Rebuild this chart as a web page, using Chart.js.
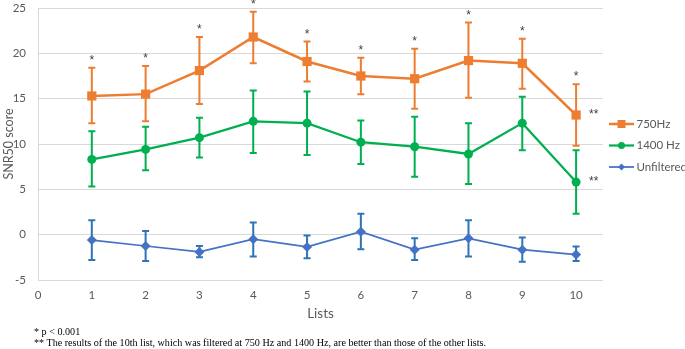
<!DOCTYPE html>
<html>
<head>
<meta charset="utf-8">
<script src="https://cdn.jsdelivr.net/npm/chart.js@4.4.0/dist/chart.umd.min.js"></script>
<style>
  body { margin: 0; background: #fff; }
  #wrap { position: relative; width: 685px; height: 349px; }
  .note {
    position: absolute;
    left: 34px;
    font-family: "Liberation Serif", "Times New Roman", serif;
    font-size: 10.15px;
    color: #000;
    white-space: nowrap;
  }
</style>
</head>
<body>
<div id="wrap">
  <canvas id="snr-chart" width="685" height="349"></canvas>
  <div class="note" style="top:326px">* p &lt; 0.001</div>
  <div class="note" style="top:337px">** The results of the 10th list, which was filtered at 750 Hz and 1400 Hz, are better than those of the other lists.</div>
</div>
<script>
const lists = [1, 2, 3, 4, 5, 6, 7, 8, 9, 10];

const hz750 = [15.3, 15.5, 18.1, 21.8, 19.1, 17.5, 17.2, 19.2, 18.9, 13.2];
const hz750Low = [12.3, 12.5, 14.4, 18.9, 16.9, 15.5, 13.9, 15.1, 16.1, 9.8];
const hz750High = [18.4, 18.6, 21.8, 24.6, 21.3, 19.5, 20.5, 23.4, 21.6, 16.6];

const hz1400 = [8.3, 9.4, 10.7, 12.5, 12.3, 10.2, 9.7, 8.9, 12.3, 5.8];
const hz1400Low = [5.3, 7.1, 8.5, 9.0, 8.8, 7.8, 6.4, 5.6, 9.3, 2.3];
const hz1400High = [11.4, 11.9, 12.9, 15.9, 15.8, 12.6, 13.0, 12.3, 15.2, 9.3];

const unfiltered = [-0.6, -1.25, -1.9, -0.5, -1.35, 0.33, -1.65, -0.4, -1.65, -2.2];
const unfLow = [-2.8, -2.9, -2.5, -2.4, -2.6, -1.6, -2.8, -2.4, -3.0, -2.9];
const unfHigh = [1.6, 0.4, -1.25, 1.35, -0.1, 2.3, -0.4, 1.6, -0.3, -1.3];

// significance marks above the 750Hz bars, and the "**" next to list 10
const stars750 = ["*", "*", "*", "*", "*", "*", "*", "*", "*", "*"];
const doubleStarList = 10;

const toPoints = (ys) => lists.map((x, i) => ({ x: x, y: ys[i] }));

const sans = "Lato, 'Noto Sans', sans-serif";

const series = [
  { label: "750Hz", values: hz750, low: hz750Low, high: hz750High, color: "#ED7D31", bar: "#ED7D31", style: "rect", radius: 6.5, width: 2.5 },
  { label: "1400 Hz", values: hz1400, low: hz1400Low, high: hz1400High, color: "#00B050", bar: "#00B050", style: "circle", radius: 4.5, width: 2.25 },
  { label: "Unfiltered", values: unfiltered, low: unfLow, high: unfHigh, color: "#4472C4", bar: "#2E75B6", style: "rectRot", radius: 5, width: 1.75 },
];

const errorBars = {
  id: "errorBars",
  beforeDatasetsDraw(chart) {
    const { ctx, scales: { x, y } } = chart;
    ctx.save();
    series.forEach((s) => {
      ctx.strokeStyle = s.bar;
      ctx.lineWidth = 2;
      lists.forEach((l, i) => {
        const px = x.getPixelForValue(l);
        const top = y.getPixelForValue(s.high[i]);
        const bot = y.getPixelForValue(s.low[i]);
        ctx.beginPath();
        ctx.moveTo(px, top);
        ctx.lineTo(px, bot);
        ctx.moveTo(px - 3.5, top);
        ctx.lineTo(px + 3.5, top);
        ctx.moveTo(px - 3.5, bot);
        ctx.lineTo(px + 3.5, bot);
        ctx.stroke();
      });
    });
    ctx.restore();
  },
  afterDraw(chart) {
    const { ctx, scales: { x, y } } = chart;
    ctx.save();
    ctx.fillStyle = "#404040";
    ctx.font = "12px 'Liberation Sans', sans-serif";
    ctx.textAlign = "center";
    ctx.textBaseline = "middle";
    lists.forEach((l, i) => {
      ctx.fillText(stars750[i], x.getPixelForValue(l), y.getPixelForValue(hz750High[i]) - 7);
    });
    const i10 = lists.indexOf(doubleStarList);
    ctx.textAlign = "left";
    [hz750, hz1400].forEach((vals) => {
      ctx.fillText("**", x.getPixelForValue(doubleStarList) + 13, y.getPixelForValue(vals[i10]));
    });

    // legend
    ctx.font = "11.5px " + sans;
    series.forEach((s, k) => {
      const ly = 124 + k * 21.5;
      ctx.strokeStyle = s.color;
      ctx.lineWidth = s.width;
      ctx.beginPath();
      ctx.moveTo(609, ly);
      ctx.lineTo(634, ly);
      ctx.stroke();
      ctx.fillStyle = s.color;
      ctx.beginPath();
      if (s.style === "rect") {
        ctx.rect(617.5, ly - 4, 8, 8);
      } else if (s.style === "circle") {
        ctx.arc(621.5, ly, 3.5, 0, Math.PI * 2);
      } else {
        ctx.moveTo(621.5, ly - 3.5);
        ctx.lineTo(625, ly);
        ctx.lineTo(621.5, ly + 3.5);
        ctx.lineTo(618, ly);
        ctx.closePath();
      }
      ctx.fill();
      ctx.fillStyle = "#595959";
      ctx.fillText(s.label, 636.5, ly);
    });
    ctx.restore();
  },
};

const ctx = document.getElementById("snr-chart").getContext("2d");
new Chart(ctx, {
  type: "line",
  data: {
    datasets: series.map((s) => ({
      label: s.label,
      data: toPoints(s.values),
      borderColor: s.color,
      backgroundColor: s.color,
      borderWidth: s.width,
      pointStyle: s.style,
      pointRadius: s.radius,
      pointBorderWidth: 0,
      pointBackgroundColor: s.color,
      tension: 0,
    })),
  },
  options: {
    responsive: false,
    animation: false,
    layout: { padding: { left: 0, right: 82, top: 8, bottom: 23 } },
    plugins: {
      legend: { display: false },
      tooltip: { enabled: false },
    },
    scales: {
      x: {
        type: "linear",
        min: 0,
        max: 10.5,
        afterFit: (s) => { s.height = 46; s.paddingLeft = 0; s.paddingRight = 0; },
        ticks: {
          stepSize: 1,
          includeBounds: false,
          color: "#595959",
          font: { family: sans, size: 11.5 },
          padding: 0,
        },
        grid: { display: false },
        border: { display: false },
        title: {
          display: true,
          text: "Lists",
          color: "#595959",
          font: { family: sans, size: 13.5 },
        },
      },
      y: {
        min: -5,
        max: 25,
        afterFit: (s) => { s.width = 38; s.paddingTop = 0; s.paddingBottom = 0; },
        ticks: {
          stepSize: 5,
          color: "#595959",
          font: { family: sans, size: 11.5 },
          padding: 12,
        },
        grid: { color: "#d9d9d9", drawTicks: false },
        border: { display: true, color: "#d9d9d9" },
        title: {
          display: true,
          text: "SNR50 score",
          color: "#595959",
          font: { family: sans, size: 12.5 },
          padding: { top: 1, bottom: 1 },
        },
      },
    },
  },
  plugins: [errorBars],
});
</script>
</body>
</html>
